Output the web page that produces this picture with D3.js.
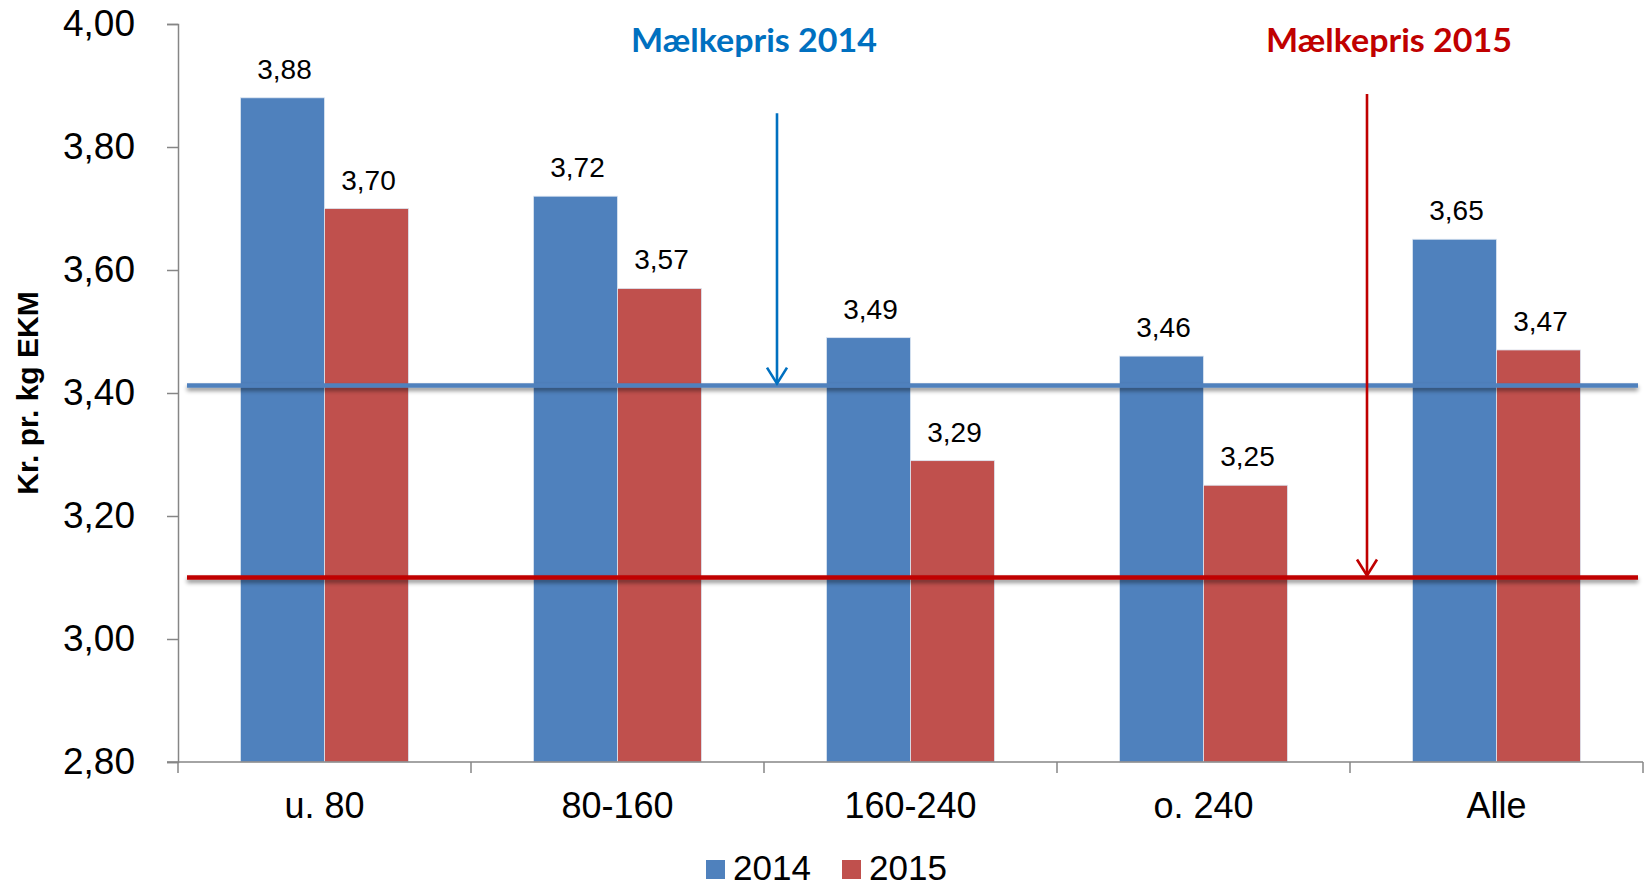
<!DOCTYPE html>
<html>
<head>
<meta charset="utf-8">
<script src="https://cdn.jsdelivr.net/npm/d3@7"></script>
<style>
  body { margin: 0; background: #fff; }
  svg { display: block; }
  .axis path, .axis line { stroke: #868686; stroke-width: 1.5; }
  .axis text { font-family: "Liberation Sans", Arial, sans-serif; fill: #000; }
</style>
</head>
<body>
<svg id="chart" width="1644" height="887"></svg>
<script>
var categories = ["u. 80", "80-160", "160-240", "o. 240", "Alle"];
var seriesNames = ["2014", "2015"];
var values2014 = [3.88, 3.72, 3.49, 3.46, 3.65];
var values2015 = [3.70, 3.57, 3.29, 3.25, 3.47];
var yTicks = [2.8, 3.0, 3.2, 3.4, 3.6, 3.8, 4.0];
var milkPrices = [3.412, 3.10];
var priceLabels = ["Mælkepris 2014", "Mælkepris 2015"];

var colors = { "2014": "#4F81BD", "2015": "#C0504D" };
var lineColors = ["#4F81BD", "#C00000"];
var noteColors = ["#0070C0", "#C00000"];

(function() {
  var svg = d3.select("#chart");
  var plotLeft = 178, plotRight = 1643, plotTop = 24, plotBottom = 762;

  var locale = d3.formatLocale({ decimal: ",", thousands: ".", grouping: [3], currency: ["", " kr"] });
  var fmt = locale.format(".2f");

  var x0 = d3.scaleBand().domain(categories).range([plotLeft, plotRight]).padding(0);
  var x1 = d3.scaleBand().domain(seriesNames).range([0, x0.bandwidth()])
    .paddingInner(0).paddingOuter(0.744);
  var y = d3.scaleLinear().domain([2.8, 4.0]).range([plotBottom, plotTop]);

  var rows = categories.map(function(c, i) {
    return { cat: c, vals: [
      { key: "2014", v: values2014[i] },
      { key: "2015", v: values2015[i] }
    ] };
  });

  // shadow under the price lines (user space, the lines have no height)
  var defs = svg.append("defs");
  var f = defs.append("filter").attr("id", "shadow")
    .attr("filterUnits", "userSpaceOnUse")
    .attr("x", 0).attr("y", 0).attr("width", 1644).attr("height", 887);
  f.append("feDropShadow").attr("dx", 0).attr("dy", 3).attr("stdDeviation", 2)
    .attr("flood-color", "#000").attr("flood-opacity", 0.45);

  // y axis
  var yAxis = svg.append("g").attr("class", "axis")
    .attr("transform", "translate(" + plotLeft + ",0)")
    .call(d3.axisLeft(y).tickValues(yTicks).tickFormat(fmt).tickSize(11).tickSizeOuter(11).tickPadding(32));
  yAxis.selectAll("text").style("font-size", "37px");

  // bars
  var groups = svg.append("g").selectAll("g").data(rows).join("g")
    .attr("transform", function(d) { return "translate(" + x0(d.cat) + ",0)"; });

  groups.selectAll("rect").data(function(d) { return d.vals; }).join("rect")
    .attr("x", function(d) { return x1(d.key); })
    .attr("y", function(d) { return y(d.v); })
    .attr("width", x1.bandwidth())
    .attr("height", function(d) { return y(2.8) - y(d.v); })
    .attr("fill", function(d) { return colors[d.key]; })
    .attr("stroke", "#dde6f2").attr("stroke-width", 0.8);

  groups.selectAll("text").data(function(d) { return d.vals; }).join("text")
    .attr("x", function(d) { return x1(d.key) + x1.bandwidth() / 2 + 2; })
    .attr("y", function(d) { return y(d.v) - 19; })
    .attr("text-anchor", "middle")
    .style("font-family", "Liberation Sans, Arial, sans-serif")
    .style("font-size", "28px")
    .text(function(d) { return fmt(d.v); });

  // x axis
  var xAxis = svg.append("g").attr("class", "axis")
    .attr("transform", "translate(0," + plotBottom + ")")
    .call(d3.axisBottom(x0).tickSize(0).tickPadding(0));
  xAxis.select(".domain").attr("d", "M" + (plotLeft - 11) + ",0H" + plotRight);
  xAxis.selectAll(".tick text").attr("y", 56).attr("dy", 0).style("font-size", "36px");
  xAxis.selectAll(".sep").data(categories.concat(["end"])).join("line")
    .attr("class", "sep")
    .attr("x1", function(d, i) { return plotLeft + i * x0.step(); })
    .attr("x2", function(d, i) { return plotLeft + i * x0.step(); })
    .attr("y1", 0).attr("y2", 11);

  // milk price lines
  svg.append("g").selectAll("line").data(milkPrices).join("line")
    .attr("x1", plotLeft + 9).attr("x2", plotRight - 5)
    .attr("y1", function(d) { return y(d); })
    .attr("y2", function(d) { return y(d); })
    .attr("stroke", function(d, i) { return lineColors[i]; })
    .attr("stroke-width", 4.5)
    .attr("filter", "url(#shadow)");

  // arrows and labels
  var notes = [
    { cat: "160-240", offset: 13, from: 3.855, labelX: 754 },
    { cat: "Alle", offset: 17, from: 3.886, labelX: 1389 }
  ];
  notes.forEach(function(n, i) {
    var ax = x0(n.cat) + n.offset;
    var tip = y(milkPrices[i]) - 2;
    var g = svg.append("g").attr("stroke", noteColors[i]).attr("stroke-width", 2.6).attr("fill", "none");
    g.append("line").attr("x1", ax).attr("x2", ax).attr("y1", y(n.from)).attr("y2", tip);
    g.append("path").attr("d", "M" + (ax - 10) + "," + (tip - 16) + "L" + ax + "," + tip + "L" + (ax + 10) + "," + (tip - 16));
    svg.append("text")
      .attr("x", n.labelX).attr("y", 52)
      .attr("text-anchor", "middle")
      .attr("textLength", 246).attr("lengthAdjust", "spacingAndGlyphs")
      .style("font-family", "Lato, 'Open Sans', sans-serif")
      .style("font-weight", "bold")
      .style("font-size", "33px")
      .attr("fill", noteColors[i])
      .text(priceLabels[i]);
  });

  // y title
  svg.append("text")
    .attr("transform", "translate(38,393) rotate(-90)")
    .attr("text-anchor", "middle")
    .style("font-family", "Liberation Sans, Arial, sans-serif")
    .style("font-weight", "bold")
    .style("font-size", "30px")
    .text("Kr. pr. kg EKM");

  // legend
  var legX = [706, 842];
  var leg = svg.append("g").selectAll("g").data(seriesNames).join("g")
    .attr("transform", function(d, i) { return "translate(" + legX[i] + ",860)"; });
  leg.append("rect").attr("width", 19).attr("height", 19)
    .attr("fill", function(d) { return colors[d]; });
  leg.append("text").attr("x", 27).attr("y", 20)
    .style("font-family", "Liberation Sans, Arial, sans-serif")
    .style("font-size", "35px")
    .text(function(d) { return d; });
})();
</script>
</body>
</html>
